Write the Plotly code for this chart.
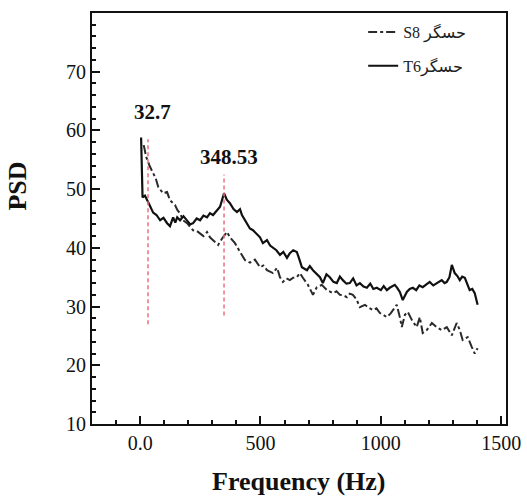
import plotly.graph_objects as go

# Power spectral density of two sensors
freq_t6 = [4, 10, 20, 29, 40, 54, 68, 83, 97, 112, 124, 137, 146, 154, 166, 180, 195, 208,
           220, 235, 249, 263, 278, 290, 303, 318, 332, 348.53, 360, 373, 388, 402, 415,
           423, 444, 456, 469, 484, 498, 510, 527, 540, 552, 566, 581, 595, 610, 622, 636,
           651, 662, 672, 693, 705, 718, 732, 747, 759, 774, 788, 803, 817, 830, 842, 857,
           871, 885, 899, 913, 928, 942, 956, 969, 983, 1000, 1012, 1025, 1037, 1058, 1068,
           1079, 1091, 1108, 1120, 1133, 1147, 1160, 1174, 1188, 1203, 1218, 1232, 1253,
           1265, 1274, 1285, 1295, 1307, 1318, 1328, 1338, 1349, 1360, 1369, 1380, 1390, 1402]
psd_t6 = [58.8, 48.6, 48.9, 48.0, 47.2, 46.0, 45.6, 44.7, 45.1, 44.2, 43.7, 45.2, 44.3,
          45.2, 44.7, 45.4, 44.7, 44.0, 44.2, 45.0, 44.7, 45.5, 45.2, 45.9, 45.6, 46.3,
          47.0, 49.3, 48.2, 47.6, 46.6, 46.1, 46.6, 45.6, 44.2, 43.3, 43.0, 42.4, 41.8,
          40.8, 41.3, 40.4, 40.0, 39.6, 38.8, 39.3, 38.3, 39.1, 39.6, 39.3, 38.0, 36.7,
          36.2, 36.9, 36.2, 35.6, 35.0, 34.0, 35.5, 35.0, 34.2, 34.0, 35.1, 34.5, 33.9,
          34.0, 34.8, 33.6, 34.0, 33.4, 33.2, 33.9, 33.0, 33.2, 32.8, 33.5, 32.8, 33.2,
          33.7, 33.2, 32.5, 31.1, 32.5, 33.0, 33.2, 32.8, 33.6, 33.3, 33.8, 34.2, 33.6,
          34.0, 34.5, 34.0, 34.2, 35.0, 37.1, 35.7, 35.2, 34.5, 35.1, 34.9, 33.8, 32.8,
          33.0, 32.3, 30.3]

freq_s8 = [15, 25, 40, 54, 65, 75, 95, 112, 124, 145, 155, 166, 178, 195, 208, 220, 235,
           249, 263, 278, 290, 303, 324, 344, 361, 373, 394, 415, 436, 456, 477, 498, 512,
           527, 552, 569, 581, 593, 608, 622, 636, 651, 664, 676, 697, 718, 734, 755, 776,
           801, 816, 830, 845, 859, 871, 884, 899, 913, 934, 950, 967, 982, 996, 1010, 1025,
           1040, 1050, 1066, 1079, 1087, 1100, 1112, 1129, 1149, 1162, 1174, 1191, 1212,
           1232, 1253, 1274, 1295, 1315, 1328, 1340, 1361, 1378, 1390, 1402]
psd_s8 = [57.5, 55.5, 53.9, 52.7, 51.8, 50.4, 49.3, 49.5, 48.1, 47.3, 46.4, 45.9, 44.7,
          44.2, 43.6, 43.0, 42.9, 42.5, 42.0, 42.7, 41.8, 41.3, 40.5, 41.8, 42.7, 41.8,
          40.8, 39.3, 37.9, 37.5, 38.0, 36.7, 37.0, 36.2, 35.7, 36.6, 35.0, 34.2, 34.8,
          34.5, 34.9, 35.0, 35.7, 34.9, 33.7, 32.0, 33.3, 33.7, 32.8, 32.3, 32.6, 32.0,
          31.9, 31.6, 32.2, 32.0, 31.2, 29.9, 30.3, 29.8, 29.4, 29.7, 28.9, 28.6, 28.2,
          28.8, 29.4, 30.3, 28.2, 26.5, 28.6, 29.1, 27.7, 26.5, 28.2, 25.5, 26.0, 27.2,
          26.5, 26.0, 26.5, 25.1, 27.2, 26.0, 24.3, 24.8, 23.1, 22.0, 22.9]

# Dominant peak frequencies and the vertical extent of their markers
peak_freqs = [32.7, 348.53]
peak_low = [27.0, 28.5]
peak_high = [58.5, 52.5]
peak_label_y = [63.2, 55.4]

x_ticks = [0, 500, 1000, 1500]
x_tick_text = ["0.0", "500", "1000", "1500"]
y_ticks = [10, 20, 30, 40, 50, 60, 70]

serif = "Liberation Serif, Times New Roman, serif"

fig = go.Figure()

fig.add_trace(go.Scatter(
    x=freq_s8, y=psd_s8, mode="lines", name="S8 حسگر",
    line=dict(color="#2a2a2a", width=2, dash="dashdot"),
    legendgroup="s8",
))
fig.add_trace(go.Scatter(
    x=freq_t6, y=psd_t6, mode="lines", name="T6حسگر",
    line=dict(color="#111111", width=2.2),
    legendgroup="t6",
))

for f, lo, hi, ly in zip(peak_freqs, peak_low, peak_high, peak_label_y):
    fig.add_trace(go.Scatter(
        x=[f, f], y=[lo, hi], mode="lines", showlegend=False,
        line=dict(color="#ec7080", width=1.5, dash="4px,3px"),
    ))
    fig.add_annotation(
        x=f + 20, y=ly, text=f"<b>{f:g}</b>", showarrow=False,
        font=dict(family=serif, size=21, color="#111111"),
    )

# Axis titles placed as paper-anchored text
fig.add_annotation(
    xref="paper", yref="paper", x=-0.179, y=0.58, xanchor="center", yanchor="middle",
    text="<b>PSD</b>", textangle=-90, showarrow=False,
    font=dict(family=serif, size=26, color="#111111"),
)
fig.add_annotation(
    xref="paper", yref="paper", x=0.5, y=-0.139, xanchor="center", yanchor="middle",
    text="<b>Frequency (Hz)</b>", showarrow=False,
    font=dict(family=serif, size=26, color="#111111"),
)

fig.update_layout(
    width=527, height=499,
    margin=dict(l=92, r=21, t=13, b=75, autoexpand=False),
    paper_bgcolor="white", plot_bgcolor="white",
    font=dict(family=serif, size=20, color="#111111"),
    showlegend=True,
    legend=dict(
        x=0.655, y=0.995, xanchor="left", yanchor="top",
        bgcolor="rgba(0,0,0,0)", borderwidth=0,
        font=dict(family=serif + ", DejaVu Sans", size=16, color="#222222"),
        tracegroupgap=10,
    ),
    xaxis=dict(
        range=[-200, 1520], tickvals=x_ticks, ticktext=x_tick_text,
        ticks="inside", ticklen=8, tickwidth=1.5, tickcolor="#111111",
        minor=dict(dtick=100, tick0=0, ticks="inside", ticklen=4, tickcolor="#111111"),
        showline=True, linecolor="#111111", linewidth=2, mirror=True,
        showgrid=False, zeroline=False, automargin=False,
        tickfont=dict(family=serif, size=20),
    ),
    yaxis=dict(
        range=[10, 80], tickvals=y_ticks,
        ticks="inside", ticklen=8, tickwidth=1.5, tickcolor="#111111",
        minor=dict(dtick=2, tick0=10, ticks="inside", ticklen=4, tickcolor="#111111"),
        showline=True, linecolor="#111111", linewidth=2, mirror=True,
        showgrid=False, zeroline=False, automargin=False,
        tickfont=dict(family=serif, size=20),
    ),
)

fig.write_html("out.html")
